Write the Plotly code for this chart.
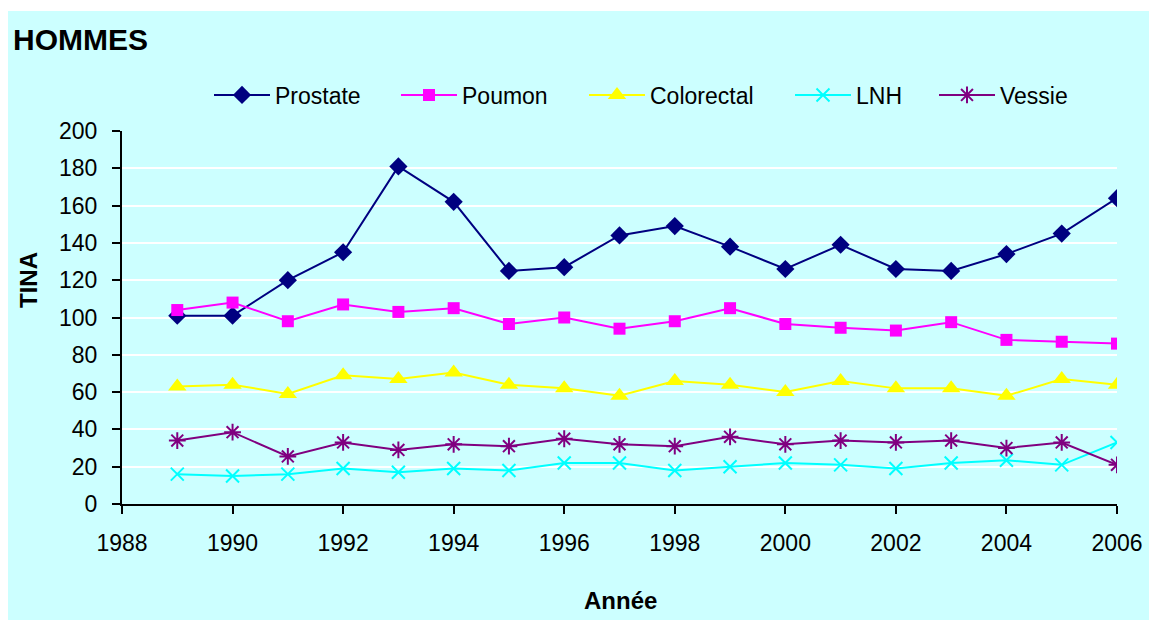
import plotly.graph_objects as go

# Incidence data (TINA) for men, 1989-2006
years = list(range(1989, 2007))
prostate = [101, 101, 120, 135, 181, 162, 125, 127, 144, 149, 138, 126, 139, 126, 125, 134, 145, 164]
poumon = [104, 108, 98, 107, 103, 105, 96.5, 100, 94, 98, 105, 96.5, 94.5, 93, 97.5, 88, 87, 86]
colorectal = [63, 64, 59, 69, 67, 70.5, 64, 62, 58, 66, 64, 60, 66, 62, 62, 58, 67, 64]
lnh = [16, 15, 16, 19, 17, 19, 18, 22, 22, 18, 20, 22, 21, 19, 22, 23.5, 21, 33]
vessie = [34, 38.5, 25.5, 33, 29, 32, 31, 35, 32, 31, 36, 32, 34, 33, 34, 30, 33, 21]

series_names = ["Prostate", "Poumon", "Colorectal", "LNH", "Vessie"]
series_values = [prostate, poumon, colorectal, lnh, vessie]
series_colors = ["#000080", "#FF00FF", "#FFFF00", "#00FFFF", "#800080"]
series_symbols = ["diamond", "square", "triangle-up", "x-thin-open", "asterisk-open"]
series_sizes = [14, 12, 16, 13, 14]

# legend entry left edges (pixels from page left)
legend_x_px = [209, 396, 584, 790, 934]

W, H = 1149, 620
BG = "#CCFFFF"
FONT = "Arial, Liberation Sans, sans-serif"

fig = go.Figure()
for i, (name, vals, col, sym, sz) in enumerate(
        zip(series_names, series_values, series_colors, series_symbols, series_sizes)):
    open_sym = sym.endswith("-open")
    fig.add_trace(go.Scatter(
        x=years, y=vals, name=name, mode="lines+markers",
        line=dict(color=col, width=2),
        marker=dict(symbol=sym, size=sz, color=col,
                    line=dict(color=col, width=2 if open_sym else 0)),
        legend="legend" if i == 0 else f"legend{i + 1}",
    ))

legends = {}
for i, xp in enumerate(legend_x_px):
    key = "legend" if i == 0 else f"legend{i + 1}"
    legends[key] = dict(
        xref="container", yref="container",
        x=xp / W, y=1 - 95 / H, xanchor="left", yanchor="middle",
        orientation="h", itemwidth=56,
        bgcolor="rgba(0,0,0,0)", borderwidth=0,
        font=dict(family=FONT, size=23, color="black"),
    )

fig.update_layout(
    width=W, height=H,
    margin=dict(l=122, r=32, t=131, b=116, autoexpand=False),
    paper_bgcolor="white",
    plot_bgcolor=BG,
    showlegend=True,
    font=dict(family=FONT, size=23, color="black"),
    title=dict(text="<b>HOMMES</b>", xref="container", yref="container",
               x=13 / W, y=1 - 39 / H, xanchor="left", yanchor="middle",
               font=dict(family=FONT, size=30, color="black")),
    shapes=[dict(type="rect", xref="paper", yref="paper", layer="below",
                 x0=(8 - 122) / 995, x1=(W - 122) / 995 + 0.01,
                 y0=(504 - H) / 373 - 0.01, y1=(504 - 11) / 373,
                 fillcolor=BG, line=dict(width=0))],
    annotations=[
        dict(text="<b>TINA</b>", xref="paper", yref="paper",
             x=(28 - 122) / 995, y=(504 - 280) / 373, textangle=-90,
             showarrow=False, xanchor="center", yanchor="middle",
             font=dict(family=FONT, size=24, color="black")),
        dict(text="<b>Année</b>", xref="paper", yref="paper",
             x=(620 - 122) / 995, y=(504 - 600) / 373,
             showarrow=False, xanchor="center", yanchor="middle",
             font=dict(family=FONT, size=24, color="black")),
    ],
    **legends,
)

fig.update_xaxes(range=[1988, 2006], tick0=1988, dtick=2, showgrid=False,
                 zeroline=False, showline=True, linecolor="black", linewidth=2,
                 ticks="outside", ticklen=8, tickwidth=2, tickcolor="black",
                 ticklabelstandoff=9,
                 tickfont=dict(family=FONT, size=23, color="black"))
fig.update_yaxes(range=[0, 200], tick0=0, dtick=20, showgrid=True,
                 gridcolor="white", gridwidth=2, zeroline=False,
                 showline=True, linecolor="black", linewidth=2,
                 ticks="outside", ticklen=8, tickwidth=2, tickcolor="black",
                 ticklabelstandoff=10,
                 tickfont=dict(family=FONT, size=23, color="black"))

fig.write_html("out.html")
